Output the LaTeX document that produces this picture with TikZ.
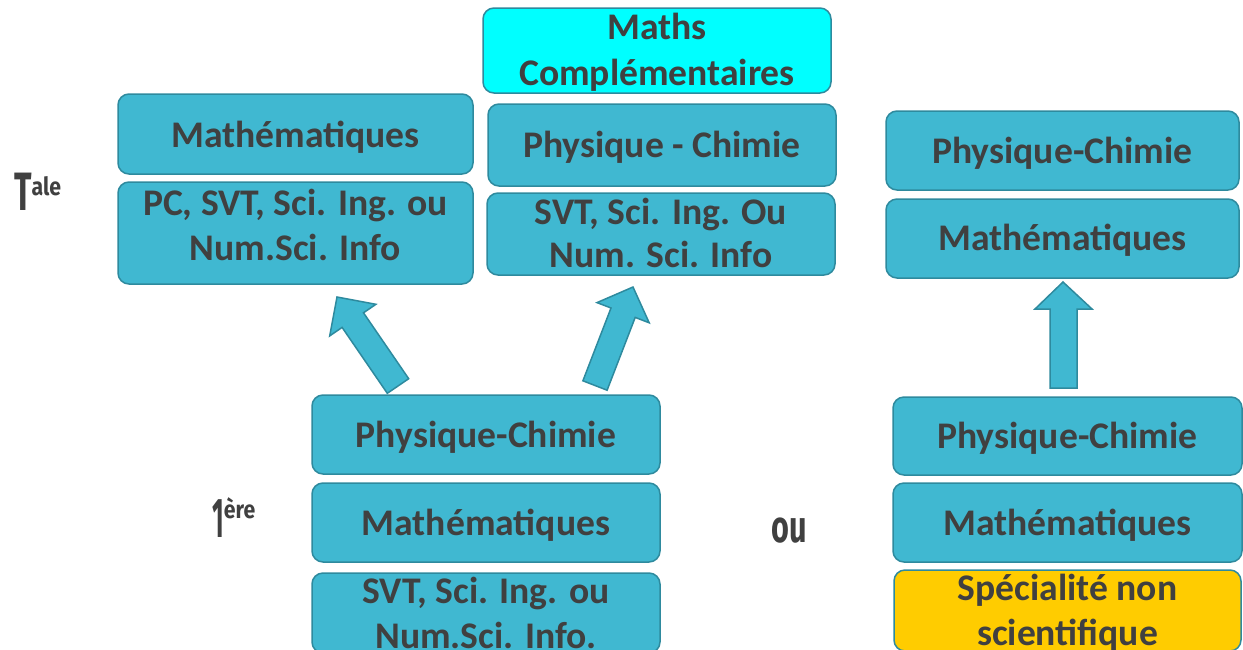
\documentclass[tikz,border=0pt]{standalone}
\usepackage{fontspec}
\setmainfont{Carlito}
\newfontfamily\labfont{Fira Sans}
\definecolor{boxfill}{HTML}{40B8D1}
\definecolor{boxline}{HTML}{2E8A9E}
\definecolor{txtgrey}{HTML}{404040}
\definecolor{mccyan}{HTML}{00FFFF}
\definecolor{specyel}{HTML}{FFCC00}
\tikzset{
  box/.style 2 args={draw=boxline, line width=1.5pt, fill=boxfill, rounded corners=11pt,
    minimum width=#1 pt, minimum height=#2 pt, inner sep=0pt},
  txt/.style={anchor=base, inner sep=0pt, text=txtgrey, font=\bfseries\fontsize{37.6}{45}\selectfont},
  blockarrow/.style={draw=boxline, line width=1.5pt, fill=boxfill, line join=miter},
  lab/.style={anchor=base west, inner sep=0pt, text=txtgrey, font=\labfont\bfseries}
}
\begin{document}
\begin{tikzpicture}[x=1pt,y=-1pt]
\useasboundingbox (0,0) rectangle (1243,649);
\clip (0,0) rectangle (1243,649);

% Terminale, left column
\node[box={355}{80}] (m1) at (295.5,134) {};
\node[txt] (m1t) at (295.5,147) {Mathématiques};
\node[box={355}{102}] (pcl) at (295.5,233) {};
\node[txt] (pclA) at (295.5,215) {PC, SVT, Sci. Ing. ou};
\node[txt] (pclB) at (295.5,260) {Num.Sci. Info};

% Terminale, middle column
\node[box={348}{85}, fill=mccyan] (mc) at (657,50.5) {};
\node[txt] (mcA) at (657,39) {Maths};
\node[txt] (mcB) at (657,85) {Complémentaires};
\node[box={348}{82}] (pc1) at (662,145) {};
\node[txt] (pc1t) at (662,157) {Physique - Chimie};
\node[box={348}{82}] (svt1) at (661,234) {};
\node[txt] (svt1A) at (661,224) {SVT, Sci. Ing. Ou};
\node[txt] (svt1B) at (661,267) {Num. Sci. Info};

% Terminale, right column
\node[box={353}{79}] (rpc) at (1062.5,150.5) {};
\node[txt] (rpct) at (1062.5,163) {Physique-Chimie};
\node[box={353}{79}] (rm) at (1062.5,238.5) {};
\node[txt] (rmt) at (1062.5,250) {Mathématiques};

% Premiere, middle column
\node[box={348}{79}] (bpc) at (486,434.5) {};
\node[txt] (bpct) at (486,447) {Physique-Chimie};
\node[box={348}{79}] (bm) at (486,522.5) {};
\node[txt] (bmt) at (486,535) {Mathématiques};
\node[box={348}{80}] (bsvt) at (486,613) {};
\node[txt] (bsvtA) at (486,603) {SVT, Sci. Ing. ou};
\node[txt] (bsvtB) at (486,648) {Num.Sci. Info.};

% Premiere, right column
\node[box={349}{78}] (rbpc) at (1067.5,436) {};
\node[txt] (rbpct) at (1067.5,448) {Physique-Chimie};
\node[box={349}{79}] (rbm) at (1067.5,522.5) {};
\node[txt] (rbmt) at (1067.5,535) {Mathématiques};
\node[box={347}{81}, fill=specyel] (yel) at (1067.5,610.5) {};
\node[txt] (yelA) at (1067.5,600) {Spécialité non};
\node[txt] (yelB) at (1067.5,645) {scientifique};

% block arrows
\draw[blockarrow] (387.3,393.3) -- (342.1,327.4) -- (329.7,335.9) -- (337,297)
  -- (375.9,304.3) -- (363.5,312.8) -- (408.7,378.7) -- cycle;
\draw[blockarrow] (607.1,390.2) -- (635.2,317.4) -- (649.2,322.8) -- (633,287)
  -- (597,302.6) -- (611,308) -- (582.9,380.8) -- cycle;
\draw[blockarrow] (1050,388) -- (1050,309) -- (1035,309) -- (1063,282)
  -- (1092,309) -- (1077,309) -- (1077,388) -- cycle;

% level labels
\node[lab] (tale) at (14,210) {\scalebox{0.6}[1]{\fontsize{54}{54}\selectfont T}\raisebox{15pt}{\scalebox{0.85}[1]{\fontsize{25}{25}\selectfont ale}}};
\node[lab] (prem) at (212,537) {\scalebox{0.45}[1]{\fontsize{56}{56}\selectfont 1}\raisebox{19pt}{\scalebox{0.85}[1]{\fontsize{25}{25}\selectfont ère}}};
\node[lab] (ou) at (771,542) {\scalebox{0.68}[1]{\fontsize{45}{45}\selectfont ou}};
\end{tikzpicture}
\end{document}
